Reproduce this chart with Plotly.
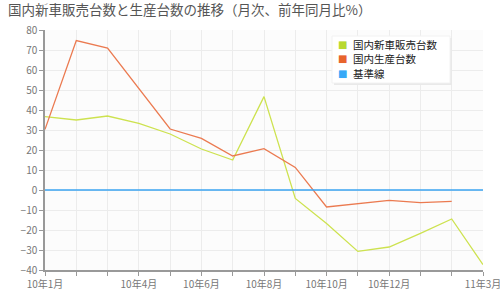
import plotly.graph_objects as go

months = ["10年1月", "10年2月", "10年3月", "10年4月", "10年5月", "10年6月", "10年7月",
          "10年8月", "10年9月", "10年10月", "10年11月", "10年12月", "11年1月", "11年2月", "11年3月"]
shown_labels = ["10年1月", "10年4月", "10年6月", "10年8月", "10年10月", "10年12月", "11年3月"]
sales = [36.7, 35, 37, 33.3, 28, 20.5, 15, 46.7, -4.2, -16.7, -30.7, -28.5, -21.7, -14.5, -37.3]
production = [30.3, 74.7, 71, 51, 30.5, 25.8, 17, 20.7, 11.3, -8.5, -6.8, -5.2, -6.3, -5.7]
baseline = [0] * len(months)

names = ["国内新車販売台数", "国内生産台数", "基準線"]
line_colors = ["#cde24f", "#eb7a50", "#3ba5f2"]
legend_colors = ["#b8d930", "#e8642c", "#36a9f7"]

font = "Noto Sans CJK JP"
xi = list(range(len(months)))

fig = go.Figure()
for vals, c in zip([sales, production, baseline], line_colors):
    fig.add_trace(go.Scatter(x=xi[:len(vals)], y=vals, mode="lines",
                             line=dict(color=c, width=1.3), showlegend=False,
                             hoverinfo="skip"))

ticktext = [m if m in shown_labels else "" for m in months]

# custom legend box (paper coords)
W, H = 500, 300
fig.add_shape(type="rect", xref="paper", yref="paper",
              x0=(334 - 45) / 438, x1=(452 - 45) / 438,
              y0=(270 - 85) / 240, y1=(270 - 38) / 240,
              line=dict(width=0), fillcolor="#e9e9e9", layer="above")
fig.add_shape(type="rect", xref="paper", yref="paper",
              x0=(332 - 45) / 438, x1=(450 - 45) / 438,
              y0=(270 - 83) / 240, y1=(270 - 36) / 240,
              line=dict(color="#f2f2f2", width=1), fillcolor="white", layer="above")
for i, (n, c) in enumerate(zip(names, legend_colors)):
    ypx = 44 + i * 14.6
    yp = (270 - ypx) / 240
    fig.add_annotation(xref="paper", yref="paper", x=(342 - 45) / 438, y=yp,
                       text="■", showarrow=False, xanchor="center", yanchor="middle",
                       font=dict(family="DejaVu Sans", size=10, color=c))
    fig.add_annotation(xref="paper", yref="paper", x=(351 - 45) / 438, y=yp,
                       text=n, showarrow=False, xanchor="left", yanchor="middle",
                       font=dict(family=font, size=10.5, color="#222"))

fig.update_layout(
    width=W, height=H,
    margin=dict(l=45, r=17, t=30, b=30, autoexpand=False),
    paper_bgcolor="white", plot_bgcolor="#fcfcfc",
    font=dict(family=font, color="#777", size=10),
    showlegend=False,
    title=dict(text="国内新車販売台数と生産台数の推移（月次、前年同月比%）",
               x=0.016, xanchor="left", y=0.967, yanchor="middle",
               font=dict(family=font, size=13.5, color="#555")),
    xaxis=dict(range=[0, 14], tickmode="array", tickvals=xi, ticktext=ticktext,
               showgrid=True, gridcolor="#ececec", gridwidth=1,
               showline=True, linecolor="#999", linewidth=1.5,
               ticks="outside", ticklen=4, tickcolor="#999",
               ticklabeloverflow="allow", automargin=False,
               zeroline=False, tickfont=dict(size=10, color="#777")),
    yaxis=dict(range=[-40, 80], dtick=10, tick0=0,
               showgrid=True, gridcolor="#ececec", gridwidth=1,
               showline=True, linecolor="#999", linewidth=1.5,
               ticks="outside", ticklen=4, tickcolor="#999",
               automargin=False,
               zeroline=False, tickfont=dict(size=10, color="#777")),
)

fig.write_html("out.html")
